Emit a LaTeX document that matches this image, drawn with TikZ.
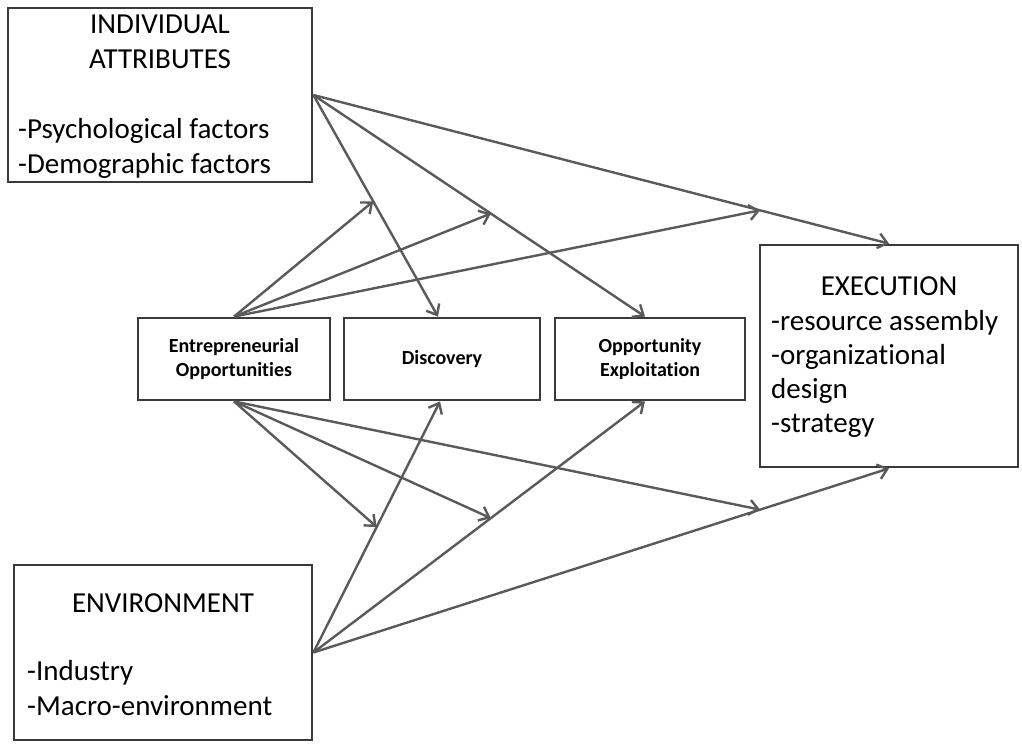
\documentclass[tikz,border=0pt]{standalone}
\usepackage{fontspec}
\setmainfont{Carlito}[Ligatures={NoCommon,NoRare,NoDiscretionary},Contextuals={NoAlternate}]
\usetikzlibrary{arrows.meta,calc}
\definecolor{boxc}{HTML}{3A3A3A}
\definecolor{arrc}{HTML}{5A5A5A}
\begin{document}
\begin{tikzpicture}[x=1pt,y=-1pt,
  box/.style={draw=boxc,line width=2.8pt,fill=white,inner sep=0pt,minimum width=#1},
  smallbox/.style={box=#1,minimum height=82pt,align=center,font=\fontsize{20}{24}\selectfont\bfseries},
  big/.style={font=\fontsize{29}{35}\selectfont,inner sep=0pt,text=black},
  conn/.style={draw=arrc,line width=2.4pt,-{Straight Barb[length=9pt,width=15pt]}}
]
\useasboundingbox (0,0) rectangle (1022,744);

% boxes
\node[box=304pt,minimum height=174pt] (IA) at (160,95) {};
\node[box=258pt,minimum height=222pt] (EX) at (889,356) {};
\node[box=298pt,minimum height=175pt] (EN) at (163,652.5) {};
\node[smallbox=192pt] (EO) at (234,359) {Entrepreneurial\\Opportunities};
\node[smallbox=196pt] (DI) at (442,359) {Discovery};
\node[smallbox=190pt] (OE) at (650,359) {Opportunity\\Exploitation};

% texts
\node[big,anchor=base] (ia1) at (160,33) {INDIVIDUAL};
\node[big,anchor=base] (ia2) at (160,68) {ATTRIBUTES};
\node[big,anchor=base west] (ia3) at (18,138) {-Psychological factors};
\node[big,anchor=base west] (ia4) at (18,173) {-Demographic factors};

\node[big,anchor=base] (ex1) at (889,295) {EXECUTION};
\node[big,anchor=base west] (ex2) at (771,330) {-resource assembly};
\node[big,anchor=base west] (ex3) at (771,364) {-organizational};
\node[big,anchor=base west] (ex4) at (771,398) {design};
\node[big,anchor=base west] (ex5) at (771,432) {-strategy};

\node[big,anchor=base] (en1) at (163,612) {ENVIRONMENT};
\node[big,anchor=base west] (en2) at (27,680) {-Industry};
\node[big,anchor=base west] (en3) at (27,715) {-Macro-environment};

% targets
\coordinate (dtop) at ($(DI.north)+(-4,0)$);
\coordinate (otop) at ($(OE.north)+(-5,0)$);
\coordinate (dbot) at ($(DI.south)+(-2,0)$);
\coordinate (obot) at ($(OE.south)+(-5,0)$);
\coordinate (a1) at ($(IA.east)!0.48!(dtop)$);
\coordinate (a2) at ($(IA.east)!0.535!(otop)$);
\coordinate (a3) at ($(IA.east)!0.776!(EX.north)$);
\coordinate (b1) at ($(EN.east)!0.5!(dbot)$);
\coordinate (b2) at ($(EN.east)!0.535!(obot)$);
\coordinate (b3) at ($(EN.east)!0.776!(EX.south)$);

% connectors
\draw[conn] (IA.east) -- (dtop);
\draw[conn] (IA.east) -- (otop);
\draw[conn] (IA.east) -- (EX.north);
\draw[conn] (EO.north) -- (a1);
\draw[conn] (EO.north) -- (a2);
\draw[conn] (EO.north) -- (a3);
\draw[conn] (EO.south) -- (b1);
\draw[conn] (EO.south) -- (b2);
\draw[conn] (EO.south) -- (b3);
\draw[conn] (EN.east) -- (dbot);
\draw[conn] (EN.east) -- (obot);
\draw[conn] (EN.east) -- (EX.south);
\end{tikzpicture}
\end{document}
